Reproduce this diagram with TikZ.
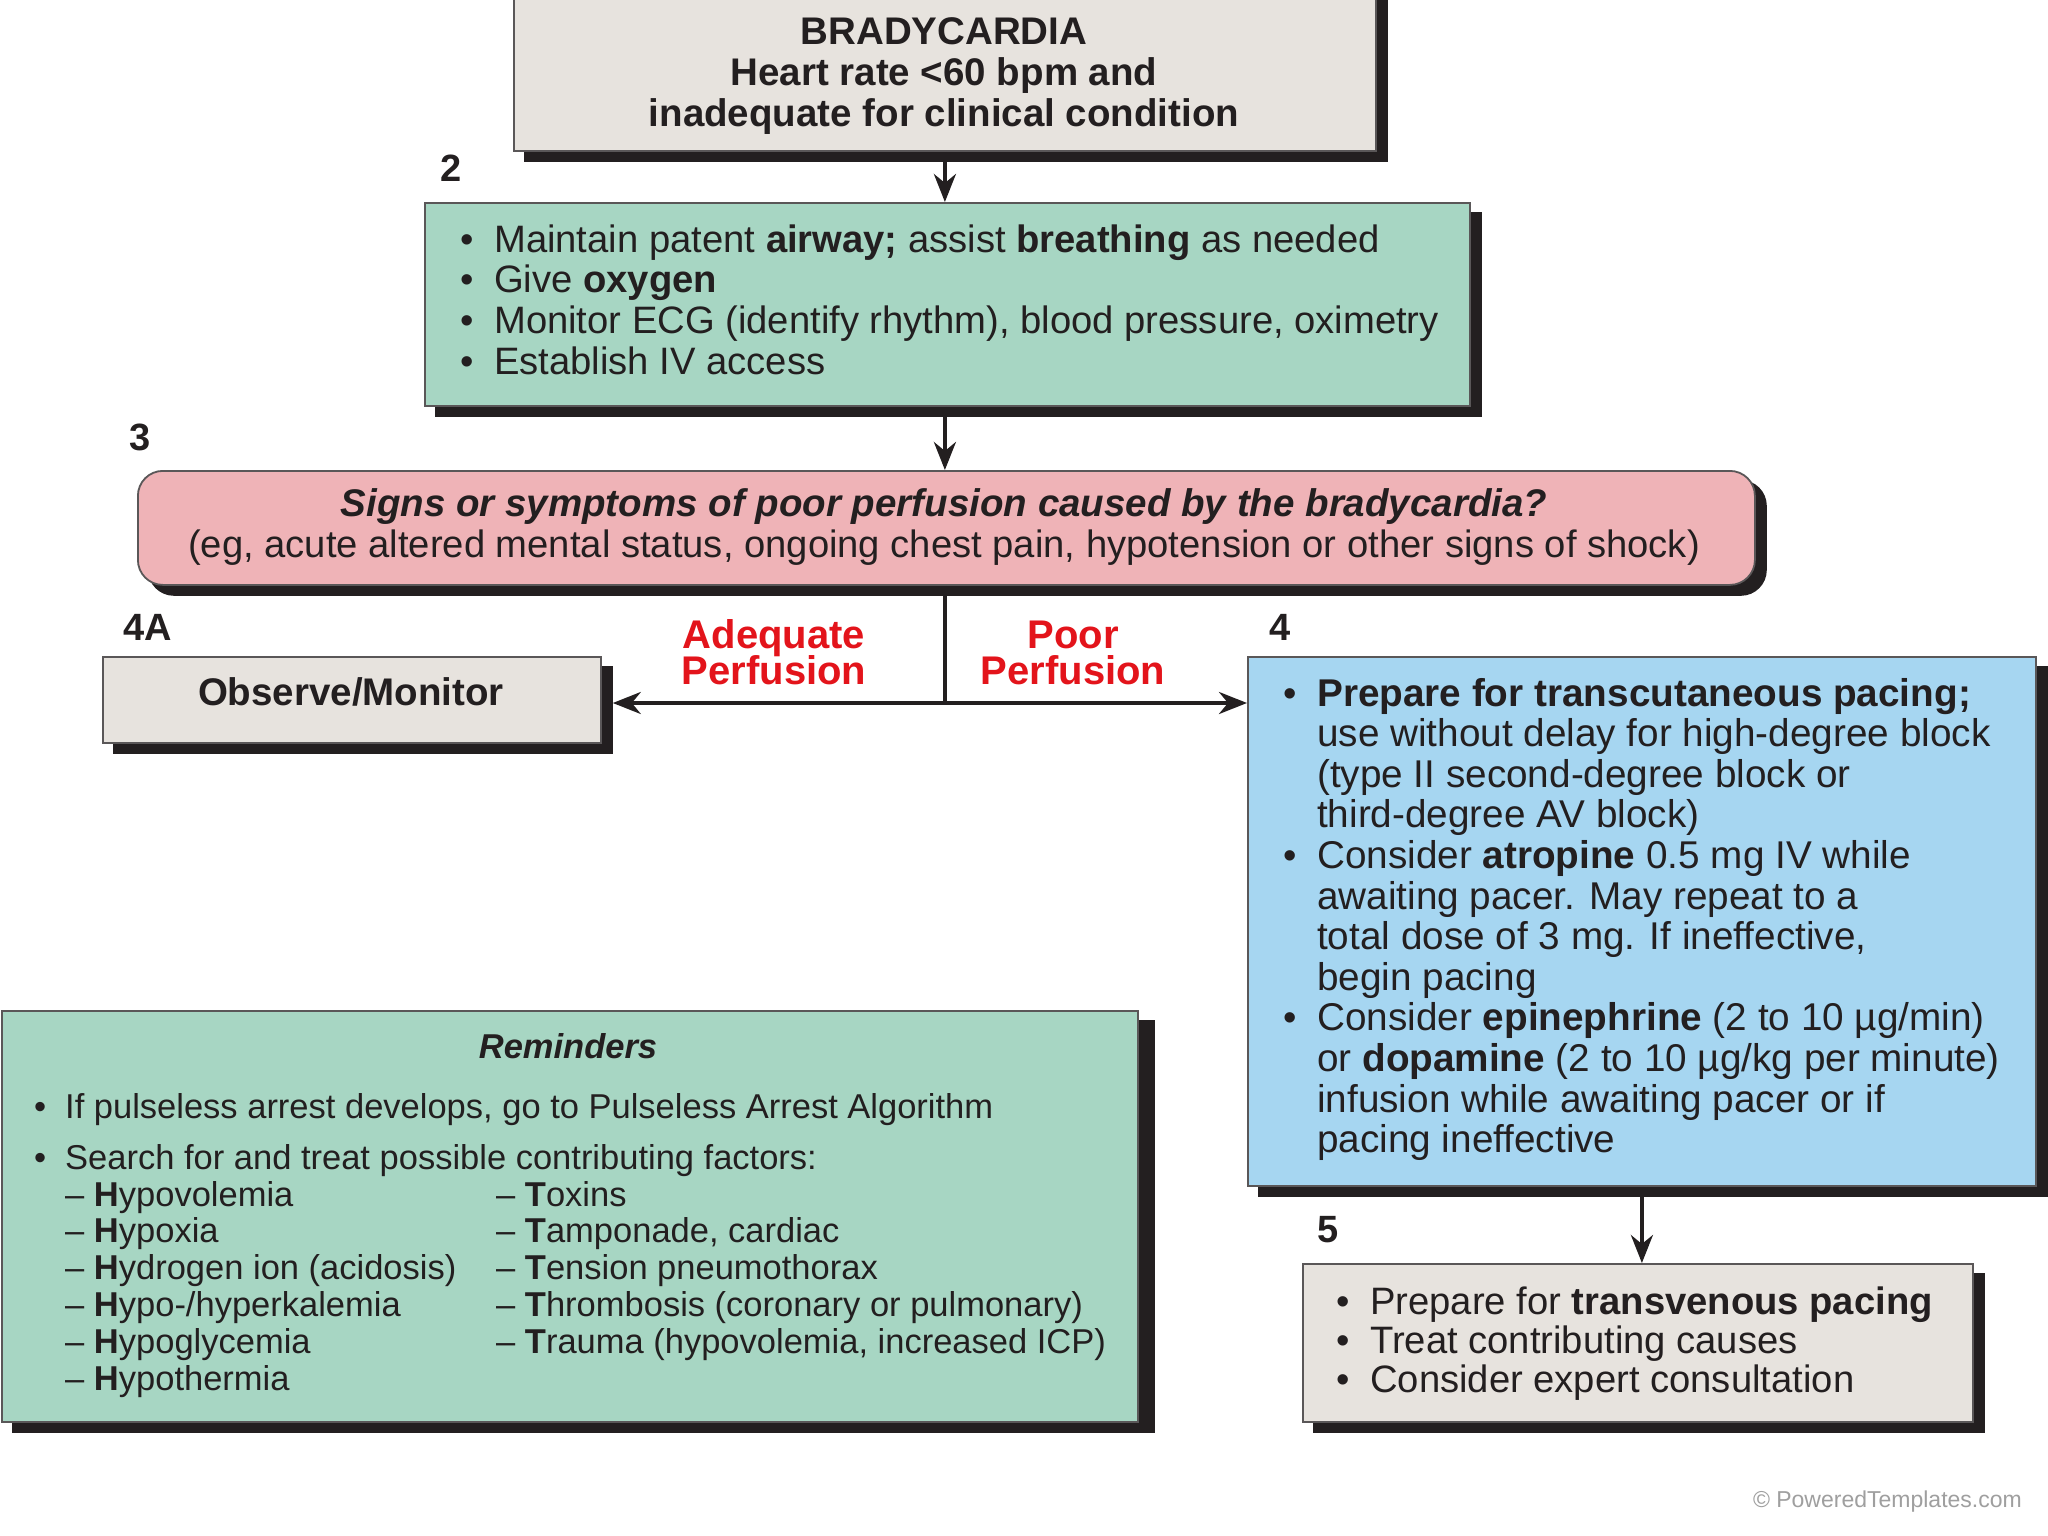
\documentclass[tikz,border=0pt]{standalone}
\usepackage{fontspec}
\setmainfont{Liberation Sans}
\usetikzlibrary{arrows.meta,shadows}
\definecolor{beige}{HTML}{E7E3DE}
\definecolor{mint}{HTML}{A7D6C3}
\definecolor{rose}{HTML}{EFB3B7}
\definecolor{sky}{HTML}{A6D6F1}
\definecolor{alarm}{HTML}{E3141B}
\definecolor{ink}{HTML}{231F20}
\tikzset{
  box/.style={draw=ink!75, line width=1.8pt, inner sep=0pt, anchor=north west,
    copy shadow={shadow xshift=11pt, shadow yshift=-10pt, fill=ink, draw=ink}},
  txt/.style={inner sep=0pt, text=ink, font=\fontsize{38.2}{40}\selectfont},
  rtxt/.style={inner sep=0pt, text=ink, font=\fontsize{34.5}{36}\selectfont},
  numlab/.style={inner sep=0pt, text=ink, font=\fontsize{38}{40}\selectfont\bfseries},
  redlab/.style={inner sep=0pt, text=alarm, font=\fontsize{40}{40}\selectfont\bfseries},
  tip/.style={-{Stealth[length=28pt,width=22pt,inset=9pt]}},
  conn/.style={draw=ink, line width=3.8pt, tip},
  conn2/.style={draw=ink, line width=3.8pt},
}
\begin{document}
\begin{tikzpicture}[x=1pt,y=-1pt]
\useasboundingbox (0,0) rectangle (2048,1536);
\fill[white] (0,0) rectangle (2048,1536);

% boxes
\node[box, fill=beige, minimum width=862pt, minimum height=170pt] (b1) at (513,-20) {};
\node[box, fill=mint, minimum width=1045pt, minimum height=203pt] (b2) at (424,202) {};
\node[box, fill=rose, rounded corners=25pt, minimum width=1617pt, minimum height=114pt] (b3) at (137,470) {};
\node[box, fill=beige, minimum width=498pt, minimum height=86pt] (b4a) at (102,656) {};
\node[box, fill=sky, minimum width=788pt, minimum height=529pt] (b4) at (1247,656) {};
\node[box, fill=beige, minimum width=670pt, minimum height=158pt] (b5) at (1302,1263) {};
\node[box, fill=mint, minimum width=1136pt, minimum height=411pt,
  copy shadow={shadow xshift=16pt, shadow yshift=-10pt, fill=ink, draw=ink}] (rem) at (1,1010) {};

% box 1 text
\node[txt, font=\fontsize{38.5}{40}\selectfont\bfseries, anchor=base] (t1a) at (944,45) {BRADYCARDIA};
\node[txt, font=\fontsize{38.5}{40}\selectfont\bfseries, anchor=base] (t1b) at (944,86) {Heart rate <60 bpm and};
\node[txt, font=\fontsize{38.5}{40}\selectfont\bfseries, anchor=base] (t1c) at (944,127) {inadequate for clinical condition};

% box 2 text
\foreach \t [count=\i] in {
  {Maintain patent \textbf{airway;} assist \textbf{breathing} as needed},
  {Give \textbf{oxygen}},
  {Monitor ECG (identify rhythm), blood pressure, oximetry},
  {Establish IV access}}{
  \node[txt, anchor=base west] (t2b\i) at (460,{252+40.8*(\i-1)}) {\textbullet};
  \node[txt, anchor=base west] (t2l\i) at (494,{252+40.8*(\i-1)}) {\t};
}

% box 3 text
\node[txt, font=\fontsize{38.5}{40}\selectfont\bfseries\itshape, anchor=base] (t3a) at (944,516) {Signs or symptoms of poor perfusion caused by the bradycardia?};
\node[txt, anchor=base] (t3b) at (944,557) {(eg, acute altered mental status, ongoing chest pain, hypotension or other signs of shock)};

% box 4A text
\node[txt, font=\fontsize{38.5}{40}\selectfont\bfseries, anchor=base] (t4a) at (351,705) {Observe/Monitor};

% box 4 text
\foreach \t [count=\i] in {
  {\bfseries Prepare for transcutaneous pacing;},
  {use without delay for high-degree block},
  {(type II second-degree block or},
  {third-degree AV block)},
  {Consider \textbf{atropine} 0.5 mg IV while},
  {awaiting pacer. May repeat to a},
  {total dose of 3 mg. If ineffective,},
  {begin pacing},
  {Consider \textbf{epinephrine} (2 to 10 µg/min)},
  {or \textbf{dopamine} (2 to 10 µg/kg per minute)},
  {infusion while awaiting pacer or if},
  {pacing ineffective}}{
  \node[txt, font=\fontsize{38.7}{40}\selectfont, anchor=base west] (t4l\i) at (1317,{706+40.6*(\i-1)}) {\t};
}
\foreach \i in {0,4,8}{
  \node[txt, anchor=base west] (t4b\i) at (1283,{706+40.6*\i}) {\textbullet};
}

% box 5 text
\foreach \t [count=\i] in {
  {Prepare for \textbf{transvenous pacing}},
  {Treat contributing causes},
  {Consider expert consultation}}{
  \node[txt, anchor=base west] (t5b\i) at (1336,{1314+39*(\i-1)}) {\textbullet};
  \node[txt, anchor=base west] (t5l\i) at (1370,{1314+39*(\i-1)}) {\t};
}

% reminders text
\node[rtxt, font=\fontsize{34.5}{36}\selectfont\bfseries\itshape, anchor=base] (rt) at (568,1058) {Reminders};
\node[rtxt, anchor=base west] (rb1) at (34,1118) {\textbullet};
\node[rtxt, anchor=base west] (rl1) at (65,1118) {If pulseless arrest develops, go to Pulseless Arrest Algorithm};
\node[rtxt, anchor=base west] (rb2) at (34,1169) {\textbullet};
\node[rtxt, anchor=base west] (rl2) at (65,1169) {Search for and treat possible contributing factors:};
\foreach \t [count=\i] in {
  {\textbf{H}ypovolemia},{\textbf{H}ypoxia},{\textbf{H}ydrogen ion (acidosis)},
  {\textbf{H}ypo-/hyperkalemia},{\textbf{H}ypoglycemia},{\textbf{H}ypothermia}}{
  \node[rtxt, anchor=base west] (rh\i) at (65,{1206+36.8*(\i-1)}) {– \t};
}
\foreach \t [count=\i] in {
  {\textbf{T}oxins},{\textbf{T}amponade, cardiac},{\textbf{T}ension pneumothorax},
  {\textbf{T}hrombosis (coronary or pulmonary)},{\textbf{T}rauma (hypovolemia, increased ICP)}}{
  \node[rtxt, anchor=base west] (rt\i) at (496,{1206+36.8*(\i-1)}) {– \t};
}

% step numbers
\node[numlab] (n2) at (451,168) {2};
\node[numlab] (n3) at (140,437) {3};
\node[numlab] (n4a) at (148,627) {4A};
\node[numlab] (n4) at (1280,627) {4};
\node[numlab] (n5) at (1328,1230) {5};

% perfusion labels
\node[redlab, anchor=base] (ad1) at (774,648) {Adequate};
\node[redlab, anchor=base] (ad2) at (774,684) {Perfusion};
\node[redlab, anchor=base] (po1) at (1073,648) {Poor};
\node[redlab, anchor=base] (po2) at (1073,684) {Perfusion};

% connectors
\draw[conn] (b1.south) -- (b1.south |- b2.north);
\draw[conn] (b2.south -| b1.south) -- (b1.south |- b3.north);
\path (b1.south |- 0,703) coordinate (split);
\draw[conn2] (b1.south |- b3.south) -- (split);
\draw[conn2, tip, shorten >=11pt] (split) -- (split -| b4a.east);
\draw[conn2, tip] (split) -- (split -| b4.west);
\draw[conn] (b4.south) -- (b4.south |- b5.north);

% watermark
\node[inner sep=0pt, text=gray!75, font=\fontsize{23}{24}\selectfont, anchor=base east] (wm) at (2022,1507) {© PoweredTemplates.com};
\end{tikzpicture}
\end{document}
